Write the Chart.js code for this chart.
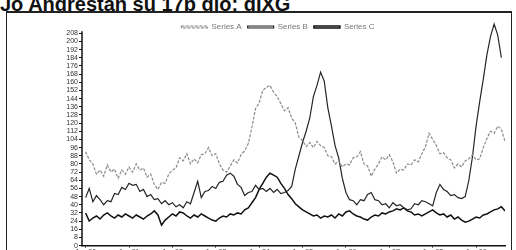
<!DOCTYPE html>
<html lang="en">
<head>
    <meta charset="UTF-8">
    <title>Chart</title>
    <script src="https://cdn.jsdelivr.net/npm/chart.js"></script>
    <style>
        body {
            margin: 0;
            background: #fff;
            width: 516px;
            height: 250px;
            overflow: hidden;
            position: relative;
            font-family: "Liberation Sans", Arial, sans-serif;
        }
        #title {
            position: absolute;
            left: 0;
            top: -7px;
            font-size: 20px;
            font-weight: bold;
            color: #111;
            white-space: nowrap;
        }
        #frame {
            position: absolute;
            left: 6px;
            top: 11px;
            width: 504px;
            height: 243px;
            border: 1px solid #222;
            border-top-width: 2px;
        }
    </style>
</head>
<body>
    <div id="title">Jo Andrestan su 17b dlo: dIXG</div>
    <div id="frame">
        <canvas id="chart" width="504" height="243"></canvas>
    </div>

<script>
    // x tick labels, one every 12 points
    const tickLabels = ['Jan 90', 'Jan 91', 'Jan 92', 'Jan 93', 'Jan 94', 'Jan 95', 'Jan 96', 'Jan 97', 'Jan 98', 'Jan 99'];
    const tickPoints = [0, 12, 24, 36, 48, 60, 72, 84, 96, 108];

    const seriesNames = ['Series A', 'Series B', 'Series C'];

    // gray upper line
    const seriesA = [92, 84, 80, 70, 74, 68, 79, 72, 75, 66, 74, 70, 77, 72, 80, 74, 76, 67, 70, 60,
        55, 62, 61, 70, 74, 76, 86, 83, 90, 80, 85, 81, 89, 90, 96, 88, 90, 80, 74, 72,
        78, 84, 81, 89, 93, 100, 116, 134, 140, 152, 155, 157, 150, 146, 139, 132, 135, 125, 120, 106,
        103, 97, 101, 96, 102, 98, 96, 88, 87, 80, 83, 77, 80, 79, 86, 87, 92, 80, 78, 68,
        75, 80, 87, 84, 89, 82, 71, 75, 74, 80, 79, 84, 82, 90, 97, 110, 104, 98, 90, 91,
        86, 84, 76, 80, 77, 83, 85, 89, 84, 85, 96, 105, 112, 110, 117, 114, 102];

    // black line with the two sharp peaks
    const seriesB = [47, 56, 43, 49, 45, 40, 44, 43, 51, 50, 57, 55, 61, 59, 60, 53, 55, 48, 50, 45,
        46, 41, 44, 40, 42, 38, 40, 37, 43, 41, 52, 63, 47, 53, 54, 58, 56, 62, 63, 69,
        71, 68, 60, 57, 49, 52, 53, 59, 55, 56, 53, 56, 52, 55, 51, 52, 54, 58, 75, 88,
        101, 112, 125, 146, 157, 170, 161, 135, 117, 98, 86, 66, 52, 45, 44, 40, 45, 44, 50, 52,
        45, 44, 40, 41, 37, 42, 39, 40, 37, 35, 36, 41, 40, 44, 43, 41, 39, 52, 60, 55,
        53, 49, 50, 47, 46, 48, 64, 87, 117, 141, 163, 187, 205, 217, 206, 184, null];

    // black bottom line
    const seriesC = [32, 24, 27, 29, 26, 30, 32, 29, 27, 30, 28, 31, 29, 27, 30, 28, 26, 29, 31, 34,
        30, 20, 25, 28, 31, 29, 33, 32, 29, 27, 30, 28, 31, 29, 27, 25, 24, 27, 29, 28,
        31, 30, 32, 31, 35, 37, 42, 47, 55, 61, 67, 71, 69, 67, 61, 56, 50, 46, 41, 38,
        35, 33, 31, 29, 30, 27, 29, 28, 30, 27, 31, 29, 33, 34, 31, 29, 28, 26, 25, 28,
        30, 29, 32, 31, 33, 34, 36, 35, 37, 34, 33, 30, 31, 29, 31, 33, 35, 32, 30, 31,
        28, 30, 26, 28, 25, 23, 24, 26, 28, 27, 30, 31, 33, 35, 36, 38, 34];

    const yMin = 0;
    const yMax = 220;      // room above the last tick for the tall peak
    const yTickTop = 208;
    const yStep = 8;

    const toPoints = arr => arr.map((v, i) => ({ x: i, y: v }));

    // legend overlaps the empty top of the plot: reserve only a few px for it,
    // then give it back its full box so it is not clipped when drawn
    const flatLegend = {
        id: 'flatLegend',
        beforeLayout(chart) {
            const lg = chart.legend;
            if (lg && !lg._flat) {
                const fit = lg.fit;
                lg.fit = function () {
                    fit.call(this);
                    this._fullHeight = this.height;
                    this.height = 4;
                };
                lg._flat = true;
            }
        },
        afterLayout(chart) {
            const lg = chart.legend;
            if (lg && lg._fullHeight) {
                lg.height = lg._fullHeight;
                lg.bottom = lg.top + lg._fullHeight;
            }
        }
    };

    // y axis line only as high as the top tick
    const yAxisLine = {
        id: 'yAxisLine',
        afterDraw(chart) {
            const { ctx, chartArea, scales } = chart;
            ctx.save();
            ctx.strokeStyle = '#111';
            ctx.lineWidth = 1.5;
            ctx.beginPath();
            ctx.moveTo(chartArea.left, scales.y.getPixelForValue(yTickTop) - 2);
            ctx.lineTo(chartArea.left, chartArea.bottom);
            ctx.stroke();
            ctx.restore();
        }
    };

    const ctx = document.getElementById('chart').getContext('2d');
    new Chart(ctx, {
        type: 'line',
        data: {
            datasets: [{
                label: seriesNames[0],
                data: toPoints(seriesA),
                borderColor: '#8a8a8a',
                borderWidth: 1.2,
                borderDash: [3, 1.5],
                pointRadius: 0,
                tension: 0
            }, {
                label: seriesNames[1],
                data: toPoints(seriesB),
                borderColor: '#262626',
                borderWidth: 1.2,
                pointRadius: 0,
                tension: 0
            }, {
                label: seriesNames[2],
                data: toPoints(seriesC),
                borderColor: '#111',
                borderWidth: 1.5,
                pointRadius: 0,
                tension: 0
            }]
        },
        plugins: [flatLegend, yAxisLine],
        options: {
            responsive: false,
            animation: false,
            layout: { padding: { left: 44, right: 6, top: 4, bottom: 0 } },
            plugins: {
                legend: {
                    position: 'top',
                    labels: {
                        color: '#777',
                        font: { size: 8, family: '"Liberation Sans", Arial, sans-serif' },
                        boxWidth: 26,
                        boxHeight: 2,
                        padding: 6
                    }
                },
                tooltip: { enabled: false }
            },
            scales: {
                x: {
                    type: 'linear',
                    min: -1,
                    max: 116,
                    afterBuildTicks: scale => {
                        scale.ticks = tickPoints.map(v => ({ value: v }));
                    },
                    ticks: {
                        autoSkip: false,
                        maxRotation: 0,
                        padding: 0,
                        color: '#333',
                        font: { size: 7, family: '"Liberation Sans", Arial, sans-serif' },
                        callback: value => tickLabels[tickPoints.indexOf(value)] ?? ''
                    },
                    grid: { drawOnChartArea: false, tickLength: 2, color: '#111' },
                    border: { color: '#111', width: 1.5 }
                },
                y: {
                    min: yMin,
                    max: yMax,
                    afterFit: scale => { scale.width = 31; },
                    afterBuildTicks: scale => {
                        scale.ticks = scale.ticks.filter(t => t.value <= yTickTop);
                    },
                    ticks: {
                        stepSize: yStep,
                        autoSkip: false,
                        padding: 1,
                        color: '#333',
                        font: { size: 7, family: '"Liberation Sans", Arial, sans-serif' }
                    },
                    grid: { drawOnChartArea: false, tickLength: 3, color: '#111' },
                    border: { display: false }
                }
            }
        }
    });
</script>
</body>
</html>
